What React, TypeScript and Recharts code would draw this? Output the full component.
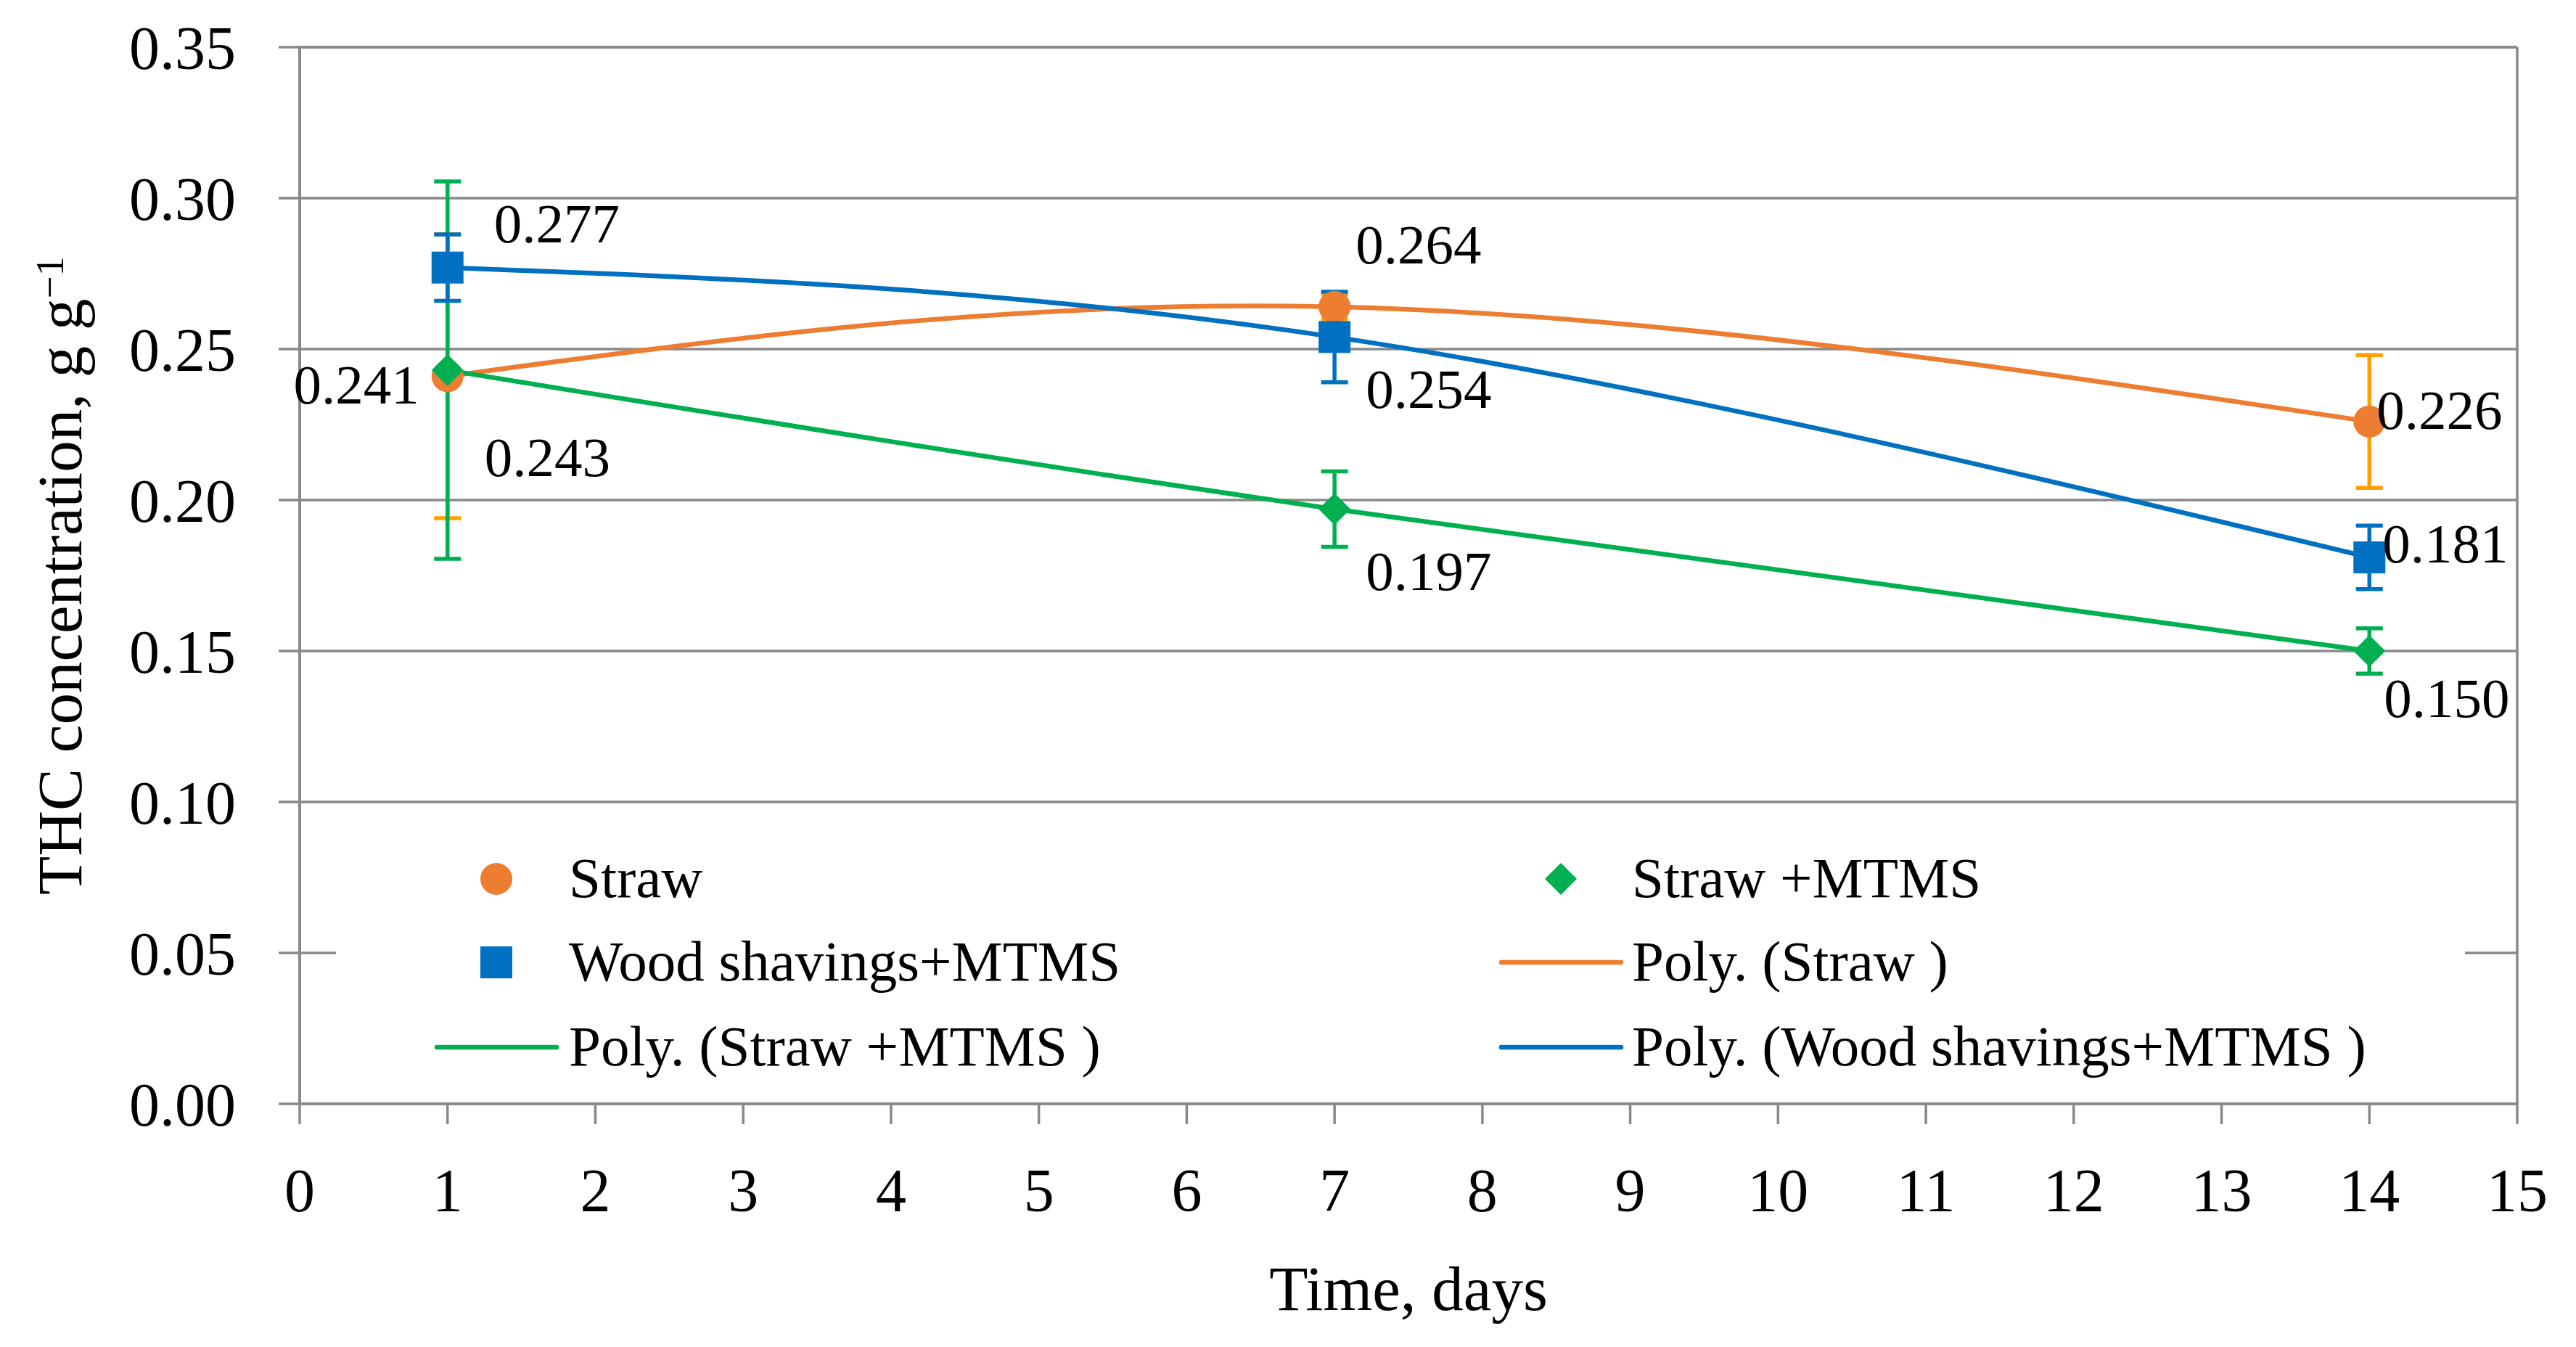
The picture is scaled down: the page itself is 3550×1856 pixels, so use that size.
import React from 'react';
import {
  ComposedChart,
  Line,
  Scatter,
  XAxis,
  YAxis,
  CartesianGrid,
  ErrorBar,
  ReferenceLine,
  Legend,
  Label,
} from 'recharts';

// ---------- data ----------
const DAYS = [1, 7, 14];
const STRAW = [0.241, 0.264, 0.226];
const STRAW_ERR = [0.047, 0.004, 0.022];
const STRAW_MTMS = [0.243, 0.197, 0.15];
const STRAW_MTMS_ERR = [0.0625, 0.0125, 0.0075];
const WOOD_MTMS = [0.277, 0.254, 0.181];
const WOOD_MTMS_ERR = [0.011, 0.015, 0.0105];
const X_TICKS = [0, 1, 2, 3, 4, 5, 6, 7, 8, 9, 10, 11, 12, 13, 14, 15];
const Y_TICKS = [0, 0.05, 0.1, 0.15, 0.2, 0.25, 0.3, 0.35];
const SERIES_NAMES = ['Straw', 'Straw +MTMS', 'Wood shavings+MTMS'];
const TREND_NAMES = ['Poly. (Straw )', 'Poly. (Straw +MTMS )', 'Poly. (Wood shavings+MTMS )'];
const X_TITLE = 'Time, days';
const Y_TITLE = 'THC concentration, g g';
const Y_TITLE_SUP = '\u22121';

// ---------- styles ----------
const C_STRAW = '#ED7D31';
const C_STRAW_ERR = '#FFA000';
const C_MTMS = '#00B050';
const C_WOOD = '#0070C0';
const GRID = '#898989';
const FONT = '"Liberation Serif", "Times New Roman", serif';
const MARKER = 44;
const LABEL_FS = 77;
const TREND_W = 6.5;

type LP = { dx: number; dy: number; anchor?: 'start' | 'end' };
const LABEL_POS: Record<string, LP[]> = {
  straw: [
    { dx: -39, dy: 38, anchor: 'end' },
    { dx: 29, dy: -60 },
    { dx: 10, dy: 10 },
  ],
  mtms: [
    { dx: 51, dy: 146 },
    { dx: 43, dy: 112 },
    { dx: 20, dy: 91 },
  ],
  wood: [
    { dx: 64, dy: -35 },
    { dx: 43, dy: 98 },
    { dx: 18, dy: 7 },
  ],
};

const trendRows = DAYS.map((d, i) => ({
  day: d,
  straw: STRAW[i],
  mtms: STRAW_MTMS[i],
  wood: WOOD_MTMS[i],
}));
const strawPts = DAYS.map((d, i) => ({ day: d, val: STRAW[i], err: STRAW_ERR[i] }));
const mtmsPts = DAYS.map((d, i) => ({ day: d, val: STRAW_MTMS[i], err: STRAW_MTMS_ERR[i] }));
const woodPts = DAYS.map((d, i) => ({ day: d, val: WOOD_MTMS[i], err: WOOD_MTMS_ERR[i] }));

function markerPath(kind: string, cx: number, cy: number, color: string) {
  const h = MARKER / 2;
  if (kind === 'circle') return <circle cx={cx} cy={cy} r={h} fill={color} />;
  if (kind === 'square')
    return <rect x={cx - h} y={cy - h} width={MARKER} height={MARKER} fill={color} />;
  return (
    <path
      d={`M${cx},${cy - h}L${cx + h},${cy}L${cx},${cy + h}L${cx - h},${cy}Z`}
      fill={color}
    />
  );
}

function makeShape(kind: string, color: string, labels: LP[]) {
  return (props: any) => {
    const { cx, cy, payload } = props;
    if (cx == null || cy == null || !payload) return <g />;
    const i = DAYS.indexOf(payload.day);
    const lp = labels[i] || { dx: 10, dy: 0 };
    return (
      <g>
        {markerPath(kind, cx, cy, color)}
        <text
          x={cx + lp.dx}
          y={cy + lp.dy}
          textAnchor={lp.anchor || 'start'}
          fontSize={LABEL_FS}
          fontFamily={FONT}
          fill="#000"
        >
          {payload.val.toFixed(3)}
        </text>
      </g>
    );
  };
}

const LEGEND_ITEMS = [
  { label: SERIES_NAMES[0], kind: 'circle', color: C_STRAW },
  { label: SERIES_NAMES[1], kind: 'diamond', color: C_MTMS },
  { label: SERIES_NAMES[2], kind: 'square', color: C_WOOD },
  { label: TREND_NAMES[0], kind: 'line', color: C_STRAW },
  { label: TREND_NAMES[1], kind: 'line', color: C_MTMS },
  { label: TREND_NAMES[2], kind: 'line', color: C_WOOD },
];

const LEG_W = 2934;
const LEG_H = 408;
const LEG_COL_X = [221, 1688];
const LEG_TEXT_X = [321, 1786];
const LEG_ROW_Y = [101, 216, 333];
const LEG_FS = 79;

const renderLegend = () => (
  <svg width={LEG_W} height={LEG_H} style={{ display: 'block' }}>
    <rect x={0} y={0} width={LEG_W} height={LEG_H} fill="#ffffff" />
    {LEGEND_ITEMS.map((it, i) => {
      const col = i % 2;
      const row = Math.floor(i / 2);
      const sx = LEG_COL_X[col];
      const sy = LEG_ROW_Y[row];
      return (
        <g key={it.label}>
          {it.kind === 'line' ? (
            <line
              x1={sx - 82}
              x2={sx + 83}
              y1={sy}
              y2={sy}
              stroke={it.color}
              strokeWidth={6.5}
              strokeLinecap="round"
            />
          ) : (
            markerPath(it.kind, sx, sy, it.color)
          )}
          <text
            x={LEG_TEXT_X[col]}
            y={sy + 25}
            fontSize={LEG_FS}
            fontFamily={FONT}
            fill="#000"
          >
            {it.label}
          </text>
        </g>
      );
    })}
  </svg>
);

const tickStyle = { fontSize: 84, fill: '#000', fontFamily: FONT };

export default function App() {
  return (
    <div style={{ width: 3550, height: 1856, background: '#fff' }}>
      <style>{'body{margin:0;background:#fff;}'}</style>
      <ComposedChart
        width={3550}
        height={1856}
        data={trendRows}
        margin={{ top: 65, right: 81, bottom: 0, left: 0 }}
      >
        <CartesianGrid horizontal vertical={false} stroke={GRID} strokeWidth={3.5} />
        <XAxis
          dataKey="day"
          type="number"
          domain={[0, 15]}
          ticks={X_TICKS}
          interval={0}
          height={335}
          tickSize={28}
          tickMargin={60}
          tick={tickStyle}
          axisLine={{ stroke: GRID, strokeWidth: 3.5 }}
          tickLine={{ stroke: GRID, strokeWidth: 3.5 }}
        >
          <Label
            content={(p: any) => {
              const vb = p.viewBox || { x: 413, y: 1521, width: 3056 };
              return (
                <text
                  x={vb.x + vb.width / 2}
                  y={vb.y + 284}
                  textAnchor="middle"
                  fontSize={87}
                  fontFamily={FONT}
                  fill="#000"
                >
                  {X_TITLE}
                </text>
              );
            }}
          />
        </XAxis>
        <YAxis
          type="number"
          domain={[0, 0.35]}
          ticks={Y_TICKS}
          interval={0}
          width={413}
          tickSize={29}
          tickMargin={59}
          tick={tickStyle}
          tickFormatter={(v: number) => v.toFixed(2)}
          axisLine={{ stroke: GRID, strokeWidth: 4 }}
          tickLine={{ stroke: GRID, strokeWidth: 3.5 }}
        >
          <Label
            content={(p: any) => {
              const vb = p.viewBox || { x: 0, y: 65, width: 413, height: 1456 };
              const cx = 112;
              const cy = vb.y + vb.height / 2;
              return (
                <text
                  x={cx}
                  y={cy}
                  transform={`rotate(-90, ${cx}, ${cy})`}
                  textAnchor="middle"
                  fontSize={87}
                  fontFamily={FONT}
                  fill="#000"
                >
                  <tspan>{Y_TITLE}</tspan>
                  <tspan dy={-25} fontSize={55}>
                    {Y_TITLE_SUP}
                  </tspan>
                </text>
              );
            }}
          />
        </YAxis>
        <ReferenceLine x={15} stroke={GRID} strokeWidth={3.5} ifOverflow="extendDomain" />
        <ReferenceLine y={0.35} stroke={GRID} strokeWidth={3.5} />

        <Line
          dataKey="straw"
          type="natural"
          stroke={C_STRAW}
          strokeWidth={TREND_W}
          dot={false}
          activeDot={false}
          legendType="none"
          isAnimationActive={false}
        />
        <Line
          dataKey="mtms"
          type="natural"
          stroke={C_MTMS}
          strokeWidth={TREND_W}
          dot={false}
          activeDot={false}
          legendType="none"
          isAnimationActive={false}
        />
        <Line
          dataKey="wood"
          type="natural"
          stroke={C_WOOD}
          strokeWidth={TREND_W}
          dot={false}
          activeDot={false}
          legendType="none"
          isAnimationActive={false}
        />

        <Scatter
          name={SERIES_NAMES[0]}
          data={strawPts}
          dataKey="val"
          fill={C_STRAW}
          shape={makeShape('circle', C_STRAW, LABEL_POS.straw)}
          isAnimationActive={false}
        >
          <ErrorBar dataKey="err" direction="y" width={18.5} strokeWidth={5.5} stroke={C_STRAW_ERR} />
        </Scatter>
        <Scatter
          name={SERIES_NAMES[1]}
          data={mtmsPts}
          dataKey="val"
          fill={C_MTMS}
          shape={makeShape('diamond', C_MTMS, LABEL_POS.mtms)}
          isAnimationActive={false}
        >
          <ErrorBar dataKey="err" direction="y" width={18.5} strokeWidth={5.5} stroke={C_MTMS} />
        </Scatter>
        <Scatter
          name={SERIES_NAMES[2]}
          data={woodPts}
          dataKey="val"
          fill={C_WOOD}
          shape={makeShape('square', C_WOOD, LABEL_POS.wood)}
          isAnimationActive={false}
        >
          <ErrorBar dataKey="err" direction="y" width={18.5} strokeWidth={5.5} stroke={C_WOOD} />
        </Scatter>

        <Legend
          layout="horizontal"
          verticalAlign="middle"
          align="center"
          content={renderLegend}
          wrapperStyle={{
            position: 'absolute',
            left: 463,
            top: 1110,
            width: LEG_W,
            height: LEG_H,
            margin: 0,
            padding: 0,
          }}
        />
      </ComposedChart>
    </div>
  );
}
